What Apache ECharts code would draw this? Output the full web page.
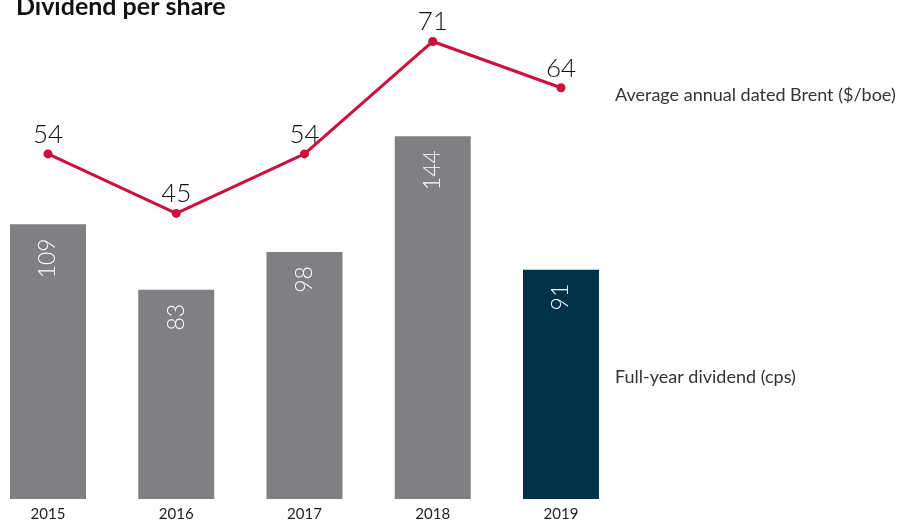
<!DOCTYPE html>
<html>
<head>
<meta charset="utf-8">
<script src="https://cdn.jsdelivr.net/npm/echarts@6/dist/echarts.min.js"></script>
<style>
  html, body { margin: 0; padding: 0; background: #ffffff; }
  #chart { width: 902px; height: 522px; }
</style>
</head>
<body>
<div id="chart"></div>
<script>
// Years on the category axis
const years = ['2015', '2016', '2017', '2018', '2019'];
// Full-year dividend, cents per share
const dividend = [109, 83, 98, 144, 91];
// Average annual dated Brent, $/boe
const brent = [54, 45, 54, 71, 64];

const FONT = 'Lato, "Open Sans", sans-serif';
const GREY = '#808084';
const NAVY = '#00324a';
const RED = '#d0103a';

const chart = echarts.init(document.getElementById('chart'), null, { renderer: 'canvas' });

chart.setOption({
  animation: false,
  backgroundColor: '#ffffff',
  // category ticks sit on the bar centres (boundaryGap off)
  grid: { left: 48, right: 341, top: 19, bottom: 23, containLabel: false },
  xAxis: {
    type: 'category',
    data: years,
    boundaryGap: false,
    axisLine: { show: false },
    axisTick: { show: false },
    axisLabel: { color: '#222222', fontSize: 15, fontFamily: FONT, margin: 8 }
  },
  yAxis: [
    { type: 'value', min: 0, max: 190.5, show: false, splitLine: { show: false } },
    { type: 'value', min: 1.8, max: 74.4, show: false, splitLine: { show: false } }
  ],
  series: [
    {
      name: 'Full-year dividend (cps)',
      type: 'bar',
      yAxisIndex: 0,
      barWidth: 76,
      data: dividend.map((v, i) => ({
        value: v,
        itemStyle: { color: i === dividend.length - 1 ? NAVY : GREY }
      })),
      label: {
        show: true,
        position: 'insideTop',
        rotate: 90,
        align: 'right',
        verticalAlign: 'middle',
        distance: 14,
        color: '#ffffff',
        fontSize: 23,
        fontFamily: FONT,
        fontWeight: 300
      }
    },
    {
      name: 'Average annual dated Brent ($/boe)',
      type: 'line',
      yAxisIndex: 1,
      data: brent,
      symbol: 'circle',
      symbolSize: 9,
      lineStyle: { color: RED, width: 3 },
      itemStyle: { color: RED },
      label: {
        show: true,
        position: 'top',
        distance: 2,
        color: '#111111',
        fontSize: 26,
        fontFamily: FONT,
        fontWeight: 300
      },
      z: 3
    }
  ],
  graphic: [
    {
      type: 'text',
      left: 16,
      top: -6,
      style: {
        text: 'Dividend per share',
        fill: '#111111',
        font: 'bold 25px ' + FONT
      }
    },
    {
      type: 'text',
      left: 615,
      top: 86,
      style: {
        text: 'Average annual dated Brent ($/boe)',
        fill: '#333333',
        font: '18px ' + FONT
      }
    },
    {
      type: 'text',
      left: 615,
      top: 368,
      style: {
        text: 'Full-year dividend (cps)',
        fill: '#333333',
        font: '18px ' + FONT
      }
    }
  ]
});
</script>
</body>
</html>
